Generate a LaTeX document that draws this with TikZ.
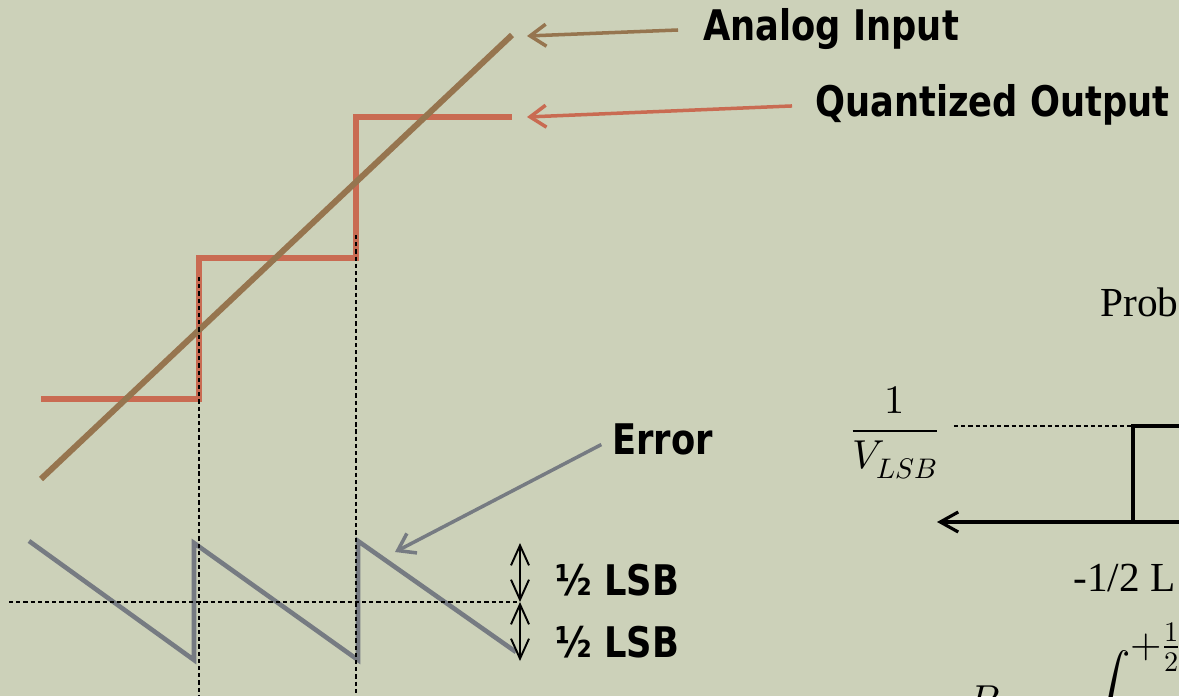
\documentclass[tikz,border=0pt]{standalone}
\usepackage{fontspec}
\usepackage{unicode-math}
\setmainfont{Liberation Serif}
\newfontfamily\labelfont[FakeStretch=0.93]{DejaVu Sans Condensed}
\usetikzlibrary{arrows.meta}
\definecolor{Backdrop}{HTML}{CCD1B9}
\definecolor{Analog}{HTML}{96754F}
\definecolor{Quant}{HTML}{C96B52}
\definecolor{ErrGray}{HTML}{767B82}
\tikzset{
  tag/.style={
    anchor=west,inner sep=0pt,
    font=\labelfont\bfseries\fontsize{24}{28}\selectfont,text=black
  },
  serif/.style={anchor=base west,inner sep=0pt,font=\fontsize{23.5}{27}\selectfont},
  pointer/.style={-{Straight Barb[length=3.2mm,width=4.4mm]},line width=2pt},
  guide/.style={dash pattern=on 2.4pt off 1.7pt,line width=1.2pt},
  span/.style={{Straight Barb[length=4mm,width=3.6mm]}-{Straight Barb[length=4mm,width=3.6mm]},line width=1.1pt}
}

\begin{document}
\begin{tikzpicture}[x=0.02cm,y=-0.02cm]
  \fill[Backdrop] (0,0) rectangle (1179,696);
  \useasboundingbox (0,0) rectangle (1179,696);

  % staircase and ramp
  \draw[Quant,line width=3.4pt] (41,399) -- (199,399) -- (199,258)
    -- (356,258) -- (356,117) -- (512,117);
  \draw[Analog,line width=3.4pt] (41,479) -- (512,35);

  % quantization error
  \draw[ErrGray,line width=2.6pt] (29,541) -- (194,660) -- (194,543)
    -- (358,660) -- (358,541) -- (516,652);

  % guides
  \draw[guide] (199,277) -- (199,696);
  \draw[guide] (356,235) -- (356,696);
  \draw[guide] (9,602) -- (520,602);

  % labels
  \node[tag] (ain) at (703,29) {Analog Input};
  \node[tag] (qout) at (815,105) {Quantized Output};
  \node[tag] (err) at (612,439) {Error};
  \node[tag] (lsbup) at (555,580) {½ LSB};
  \node[tag] (lsbdn) at (555,642) {½ LSB};

  \coordinate (ainhead) at (527,36);
  \coordinate (qouthead) at (527,117);
  \coordinate (errhead) at (395,552);
  \draw[pointer,Analog,shorten <=0.5cm] (ain.west) -- (ainhead);
  \draw[pointer,Quant,shorten <=0.46cm] (qout.west) -- (qouthead);
  \draw[pointer,ErrGray,shorten <=0.24cm] (err.west) -- (errhead);

  \coordinate (lsbtop) at (520,543);
  \coordinate (lsbmid) at (520,602);
  \coordinate (lsbbot) at (520,661);
  \draw[span] (lsbtop) -- (lsbmid);
  \draw[span] (lsbmid) -- (lsbbot);

  % probability density
  \node[serif] (prob) at (1100,316) {Prob};
  \node[inner sep=0pt,font=\fontsize{23}{27}\selectfont] (frac) at (895,433)
    {$\displaystyle\frac{1}{V_{LSB}}$};
  \coordinate (pdftl) at (1133,426);
  \coordinate (pdfbl) at (1133,522);
  \coordinate (pdftr) at (1190,426);
  \coordinate (axisr) at (1190,522);
  \coordinate (axisl) at (937,522);
  \draw[guide] ([xshift=0.28cm]frac.east |- pdftl) -- (pdftl);
  \draw[line width=1.8pt] (pdfbl) -- (pdftl) -- (pdftr);
  \draw[line width=1.8pt,-{Straight Barb[length=3.6mm,width=4mm]}] (axisr) -- (axisl);
  \node[serif] (half) at (1073,591) {-1/2 L};

  \node[anchor=north west,inner sep=0pt,font=\fontsize{23}{27}\selectfont] (pe) at (968,686) {$P$};
  \node[anchor=north west,inner sep=0pt,font=\fontsize{23}{27}\selectfont] (integ) at (1090,622)
    {$\displaystyle\int^{\textstyle+\frac{1}{2}}$};
\end{tikzpicture}
\end{document}
